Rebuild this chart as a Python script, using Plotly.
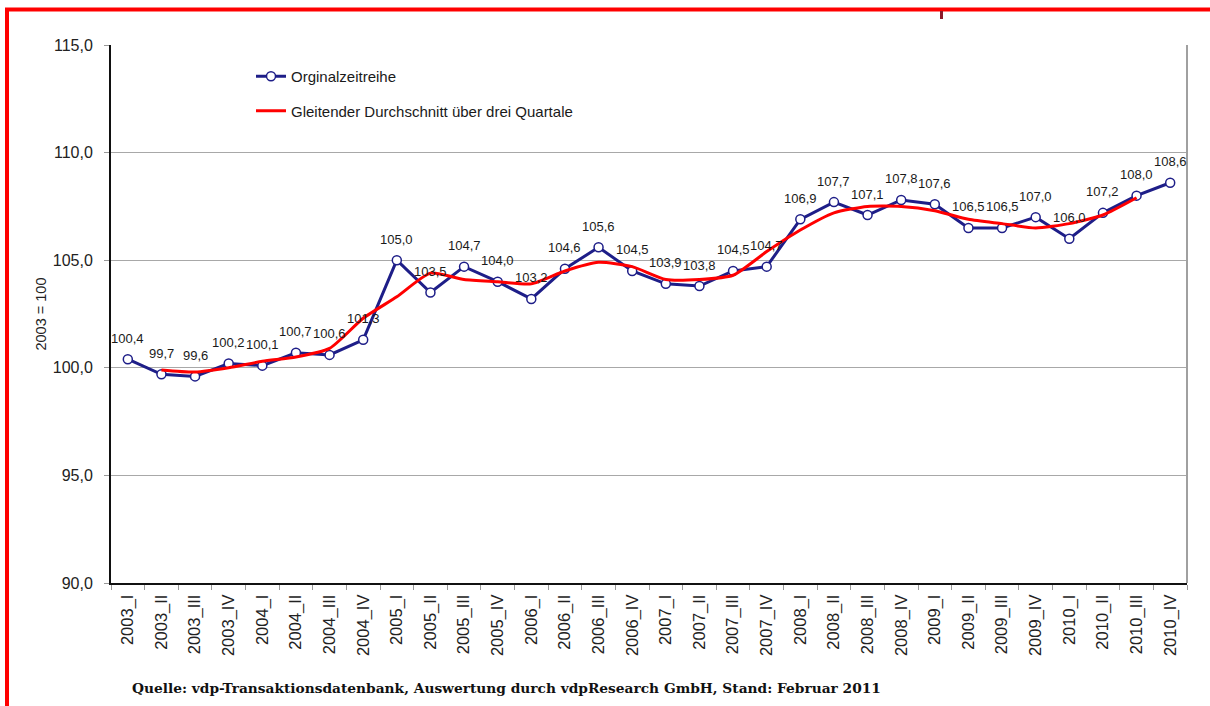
import plotly.graph_objects as go

quarters = ["2003_I","2003_II","2003_III","2003_IV","2004_I","2004_II","2004_III","2004_IV",
            "2005_I","2005_II","2005_III","2005_IV","2006_I","2006_II","2006_III","2006_IV",
            "2007_I","2007_II","2007_III","2007_IV","2008_I","2008_II","2008_III","2008_IV",
            "2009_I","2009_II","2009_III","2009_IV","2010_I","2010_II","2010_III","2010_IV"]
original = [100.4, 99.7, 99.6, 100.2, 100.1, 100.7, 100.6, 101.3,
            105.0, 103.5, 104.7, 104.0, 103.2, 104.6, 105.6, 104.5,
            103.9, 103.8, 104.5, 104.7, 106.9, 107.7, 107.1, 107.8,
            107.6, 106.5, 106.5, 107.0, 106.0, 107.2, 108.0, 108.6]
ma_quarters = quarters[1:-1]
moving_avg = [99.9, 99.8, 100.0, 100.3, 100.5, 100.9, 102.3,
              103.3, 104.4, 104.1, 104.0, 103.9, 104.5, 104.9, 104.7,
              104.1, 104.1, 104.3, 105.4, 106.4, 107.2, 107.5, 107.5,
              107.3, 106.9, 106.7, 106.5, 106.7, 107.1, 107.9]
y_ticks = [90, 95, 100, 105, 110, 115]

NAVY = "#1e1e88"
FONT = "Liberation Sans, Arial, sans-serif"

fig = go.Figure()
fig.add_trace(go.Scatter(
    x=quarters, y=original, name="Orginalzeitreihe",
    mode="lines+markers",
    line=dict(color=NAVY, width=3),
    marker=dict(size=9, color="white", line=dict(color=NAVY, width=1.5)),
    legendgroup="a",
))
fig.add_trace(go.Scatter(
    x=ma_quarters, y=moving_avg, name="Gleitender Durchschnitt über drei Quartale",
    mode="lines", line=dict(color="#ff0000", width=3, shape="spline", smoothing=0.6),
    legendgroup="b",
))

W, H = 1210, 706
L, R, T, B = 111, 23, 45, 123
pw, ph = W - L - R, H - T - B
def px(x): return (x - L) / pw
def py(y): return (H - B - y) / ph

shapes = [
    dict(type="line", xref="paper", yref="paper", x0=1, x1=1, y0=0, y1=1,
         line=dict(color="#a0a0a0", width=2)),
    dict(type="line", xref="paper", yref="paper", x0=px(5), x1=px(1212), y0=py(9.5), y1=py(9.5),
         line=dict(color="#ff0000", width=4)),
    dict(type="line", xref="paper", yref="paper", x0=px(7), x1=px(7), y0=py(8), y1=py(710),
         line=dict(color="#ff0000", width=4)),
    dict(type="line", xref="paper", yref="paper", x0=px(941.5), x1=px(941.5), y0=py(11), y1=py(19),
         line=dict(color="#8b1a2a", width=3)),
]

annotations = [dict(
    x=q, y=v, xref="x", yref="y", text=f"{v:.1f}".replace(".", ","),
    showarrow=False, yshift=21, xanchor="center", yanchor="middle",
    font=dict(family=FONT, size=13, color="#1a1a1a"))
    for q, v in zip(quarters, original)]
annotations.append(dict(
    text="<b>Quelle: vdp-Transaktionsdatenbank, Auswertung durch vdpResearch GmbH, Stand: Februar 2011</b>",
    xref="paper", yref="paper", x=px(130), y=py(688), xanchor="left", yanchor="middle",
    showarrow=False, font=dict(family="DejaVu Serif, serif", size=13.75, color="#111")))

fig.update_layout(
    width=W, height=H,
    margin=dict(l=L, r=R, t=T, b=B),
    paper_bgcolor="white", plot_bgcolor="white",
    separators=",.",
    font=dict(family=FONT, size=12, color="#222"),
    showlegend=True,
    legend=dict(x=px(251), y=py(60), xanchor="left", yanchor="top",
                bgcolor="rgba(0,0,0,0)", font=dict(family=FONT, size=15, color="#1a1a1a"),
                tracegroupgap=12, traceorder="grouped"),
    shapes=shapes,
    annotations=annotations,
)
fig.update_xaxes(
    type="category", categoryorder="array", categoryarray=quarters,
    range=[-0.5, len(quarters) - 0.5],
    showline=True, linecolor="#111", linewidth=2,
    ticks="outside", tickson="boundaries", ticklen=5, tickcolor="#999",
    tickangle=-90, tickfont=dict(family=FONT, size=16.5, color="#222"),
    ticklabelstandoff=3,
    showgrid=False,
)
fig.update_yaxes(
    range=[90, 115], tickvals=y_ticks, tickformat=".1f",
    showline=True, linecolor="#111", linewidth=2,
    ticks="outside", ticklen=5, tickcolor="#999",
    ticklabelstandoff=8,
    showgrid=True, gridcolor="#a8a8a8", gridwidth=1,
    tickfont=dict(family=FONT, size=16, color="#222"),
    title=dict(text="2003 = 100", font=dict(family=FONT, size=14.5, color="#222"), standoff=3),
    zeroline=False,
)

fig.write_html("out.html", config={"displayModeBar": False},
               post_script="document.body.style.margin='0';")
